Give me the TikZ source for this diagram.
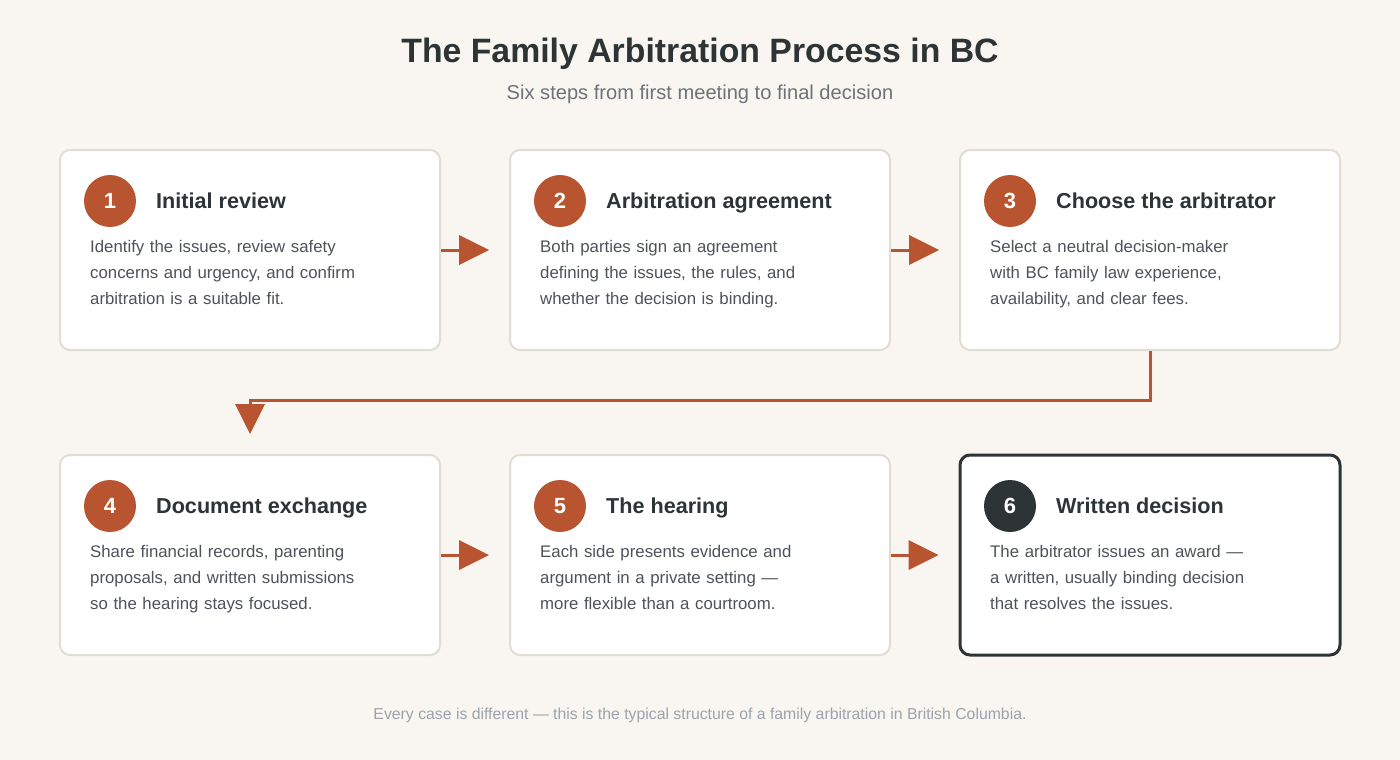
\documentclass[tikz,border=0pt]{standalone}
\usepackage{fontspec}
\setmainfont{Liberation Sans}
\usetikzlibrary{arrows.meta}
\definecolor{paper}{HTML}{F9F6F1}
\definecolor{edgegray}{HTML}{E2DDD4}
\definecolor{rust}{HTML}{B85430}
\definecolor{ink}{HTML}{2D3436}
\definecolor{bodygray}{HTML}{4D5359}
\definecolor{subgray}{HTML}{6C737A}
\definecolor{notegray}{HTML}{9CA3AB}
\begin{document}
\begin{tikzpicture}[x=1pt, y=-1pt]
	\tikzstyle{stage} = [rectangle, rounded corners=10pt, draw=edgegray, line width=2pt, fill=white, minimum width=380pt, minimum height=200pt, inner sep=0pt]
	\tikzstyle{badge} = [circle, fill=rust, minimum size=52pt, inner sep=0pt, text=white, font=\fontsize{22}{26}\selectfont\bfseries]
	\tikzstyle{head} = [anchor=base west, inner sep=0pt, text=ink, font=\fontsize{21.6}{25}\selectfont\bfseries]
	\tikzstyle{body} = [anchor=base west, inner sep=0pt, text=bodygray, text width=320pt, align=left, font=\fontsize{16.8}{26}\selectfont]
	\tikzstyle{flow} = [draw=rust, line width=3pt, -{Triangle[length=30pt, width=30pt, fill=rust, line width=0pt]}, shorten >=20pt]
	\fill[paper] (0,0) rectangle (1400,760);
	% title
	\node[text=ink, font=\fontsize{33.8}{40}\selectfont\bfseries](title)at (700,54){The Family Arbitration Process in BC};
	\node[text=subgray, font=\fontsize{20.1}{24}\selectfont](subtitle)at (700,94.5){Six steps from first meeting to final decision};
	% row one
	\node[stage](box1)at (250,250){};
	\node[stage](box2)at (700,250){};
	\node[stage](box3)at (1150,250){};
	\node[badge](num1)at (110,201){1};
	\node[badge](num2)at (560,201){2};
	\node[badge](num3)at (1010,201){3};
	\node[head](head1)at (156,208.5){Initial review};
	\node[head](head2)at (606,208.5){Arbitration agreement};
	\node[head](head3)at (1056,208.5){Choose the arbitrator};
	\node[body](text1)at (90,252){Identify the issues, review safety\\concerns and urgency, and confirm\\arbitration is a suitable fit.};
	\node[body](text2)at (540,252){Both parties sign an agreement\\defining the issues, the rules, and\\whether the decision is binding.};
	\node[body](text3)at (990,252){Select a neutral decision-maker\\with BC family law experience,\\availability, and clear fees.};
	% row two
	\node[stage](box4)at (250,555){};
	\node[stage](box5)at (700,555){};
	\node[stage, draw=ink, line width=3pt](box6)at (1150,555){};
	\node[badge](num4)at (110,506){4};
	\node[badge](num5)at (560,506){5};
	\node[badge, fill=ink](num6)at (1010,506){6};
	\node[head](head4)at (156,513.5){Document exchange};
	\node[head](head5)at (606,513.5){The hearing};
	\node[head](head6)at (1056,513.5){Written decision};
	\node[body](text4)at (90,557){Share financial records, parenting\\proposals, and written submissions\\so the hearing stays focused.};
	\node[body](text5)at (540,557){Each side presents evidence and\\argument in a private setting ---\\more flexible than a courtroom.};
	\node[body](text6)at (990,557){The arbitrator issues an award ---\\a written, usually binding decision\\that resolves the issues.};
	% connectors
	\coordinate (turn)at (1150,400);
	\path[flow] (box1) edge (box2)
	(box2) edge (box3)
	(box4) edge (box5)
	(box5) edge (box6);
	\draw[flow] (box3.south) -- (turn) -| (box4.north);
	% footnote
	\node[text=notegray, font=\fontsize{15.8}{19}\selectfont](note)at (700,715.5){Every case is different --- this is the typical structure of a family arbitration in British Columbia.};
\end{tikzpicture}
\end{document}
